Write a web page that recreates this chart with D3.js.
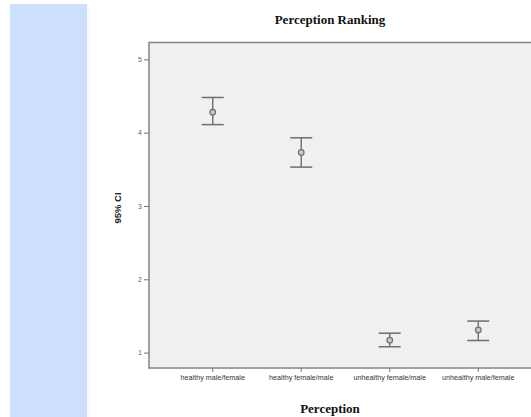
<!DOCTYPE html>
<html><head><meta charset="utf-8">
<script src="https://cdn.jsdelivr.net/npm/d3@7"></script>
<style>body{margin:0;background:#fff;}svg{display:block;}</style>
</head><body>
<svg id="c" width="531" height="417"></svg>
<script>
const categories = ["healthy male/female","healthy female/male","unhealthy female/male","unhealthy male/female"];
const means = [4.28, 3.73, 1.17, 1.31];
const upper = [4.48, 3.93, 1.265, 1.43];
const lower = [4.11, 3.53, 1.08, 1.165];
const yTicks = [1,2,3,4,5];

const svg = d3.select("#c");
svg.append("rect").attr("x",10).attr("y",4).attr("width",77).attr("height",413).attr("fill","#cce0fe");
svg.append("line").attr("x1",88).attr("x2",88).attr("y1",4).attr("y2",417).attr("stroke","#eef3fb").attr("stroke-width",1);

const pLeft=149, pTop=42.5, pRight=542, pBottom=368;
const y = d3.scaleLinear().domain([0.79,5.23]).range([pBottom,pTop]);
const x = d3.scaleBand().domain(categories).range([pLeft,pRight]).paddingOuter(0.22).paddingInner(0);

svg.append("rect").attr("x",pLeft).attr("y",pTop).attr("width",pRight-pLeft).attr("height",pBottom-pTop)
  .attr("fill","#f0f0f0").attr("stroke","#8a8a8a").attr("stroke-width",1.6);

const yAxis = svg.append("g").attr("transform",`translate(${pLeft},0)`)
  .call(d3.axisLeft(y).tickValues(yTicks).tickSize(5).tickPadding(2).tickFormat(d3.format("d")));
yAxis.select(".domain").remove();
yAxis.selectAll("line").attr("stroke","#777");
yAxis.selectAll("text").attr("font-family","Arial, 'Liberation Sans', sans-serif").attr("font-size",7).attr("fill","#666");

const xAxis = svg.append("g").attr("transform",`translate(0,${pBottom})`)
  .call(d3.axisBottom(x).tickSize(4).tickPadding(3));
xAxis.select(".domain").remove();
xAxis.selectAll("line").attr("stroke","#777");
xAxis.selectAll("text").attr("font-family","Arial, 'Liberation Sans', sans-serif").attr("font-size",7.2).attr("fill","#333");

const cx = d => x(d)+x.bandwidth()/2;
const g = svg.append("g");
categories.forEach((c,i)=>{
  const xc = cx(c);
  g.append("line").attr("x1",xc).attr("x2",xc).attr("y1",y(upper[i])).attr("y2",y(lower[i])).attr("stroke","#6e6e6e").attr("stroke-width",1.4);
  [upper[i],lower[i]].forEach(v=>{
    g.append("line").attr("x1",xc-11).attr("x2",xc+11).attr("y1",y(v)).attr("y2",y(v)).attr("stroke","#6e6e6e").attr("stroke-width",1.5);
  });
  g.append("circle").attr("cx",xc).attr("cy",y(means[i])).attr("r",2.8).attr("fill","#c8c8c8").attr("stroke","#6e6e6e").attr("stroke-width",1.2);
});

svg.append("text").attr("x",330).attr("y",24).attr("text-anchor","middle")
  .attr("font-family","'Liberation Serif','Times New Roman',serif").attr("font-weight","bold").attr("font-size",13).attr("fill","#111")
  .text("Perception Ranking");
svg.append("text").attr("x",330).attr("y",413).attr("text-anchor","middle")
  .attr("font-family","'Liberation Serif','Times New Roman',serif").attr("font-weight","bold").attr("font-size",13).attr("fill","#111")
  .text("Perception");
svg.append("text").attr("transform","translate(121,208) rotate(-90)").attr("text-anchor","middle")
  .attr("font-family","Arial, 'Liberation Sans', sans-serif").attr("font-weight","bold").attr("font-size",9.5).attr("fill","#222")
  .text("95% CI");
</script>
</body></html>
